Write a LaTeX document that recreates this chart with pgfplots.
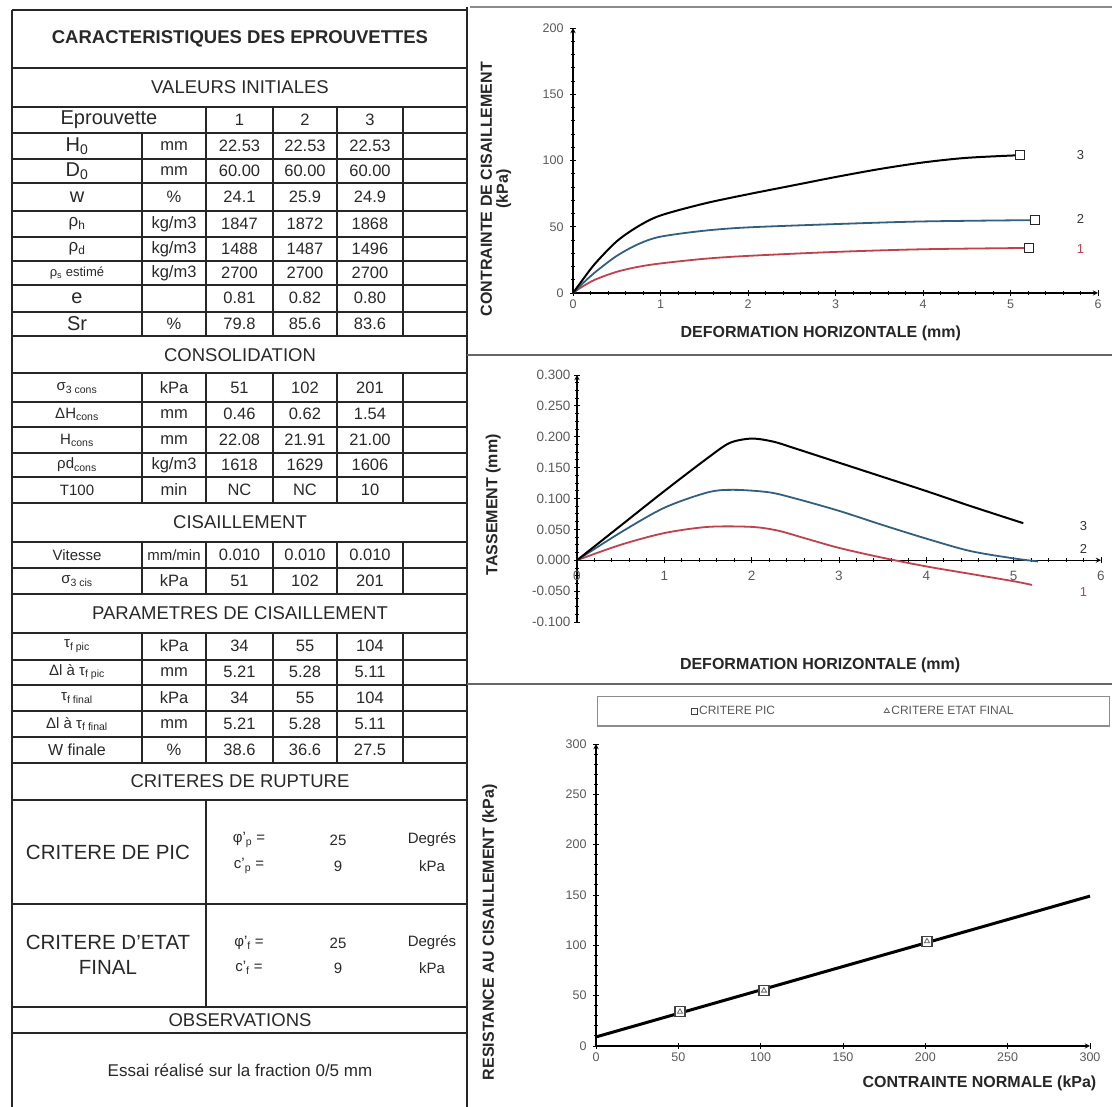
\documentclass[border=0pt]{standalone}
\usepackage{pgfplots}
\pgfplotsset{compat=1.18}
\usepackage{fontspec}
\setmainfont{Liberation Sans}
\definecolor{cred}{RGB}{190,65,75}
\definecolor{cblue}{RGB}{50,95,125}
\definecolor{txt}{RGB}{40,40,40}
\newcommand\fs[1]{\fontsize{#1}{#1}\selectfont}
\newcommand\drow[6]{%
  \node at (77,#1) {#2};
  \node[font=\fs{16.5}] at (174,#1) {#3};
  \node[font=\fs{16.5}] at (239.5,#1) {#4};
  \node[font=\fs{16.5}] at (305,#1) {#5};
  \node[font=\fs{16.5}] at (370,#1) {#6};}
\tikzset{lab/.style={font=\bfseries\fs{16}, text=black!85, anchor=center, align=center}}
\pgfplotsset{
  myaxis/.style={scale only axis, clip=false,
    axis line style={black, line width=1.3pt, -},
    tick style={black, line width=0.9pt}, tick align=center,
    major tick length=6pt, minor tick length=4pt,
    tick label style={font=\fs{12.5}, text=black!65},
    /pgf/number format/assume math mode=true}
}
\begin{document}
\begin{tikzpicture}
% ---------------- TABLE ----------------
\begin{scope}[x=1pt,y=-1pt,yshift=1107pt, every node/.style={text=txt, inner sep=0pt}]
  \draw[line width=1.6pt, black!85] (12,10) -- (12,1107);
  \draw[line width=1.6pt, black!85] (467,7) -- (467,1107);
  \foreach \y in {10,68,107,133,159,183,211,237,261,285,312,336,373,402,427,453,477,503,542,568,594,633,660,685,711,737,763,800,904,1007,1033}
    \draw[line width=1.3pt, black!85] (12,\y) -- (467,\y);
  \foreach \x in {206,273,337,403} \draw[line width=1.3pt, black!85] (\x,107) -- (\x,336);
  \draw[line width=1.3pt, black!85] (142,133) -- (142,336);
  \foreach \x in {142,206,273,337,403} {
    \draw[line width=1.3pt, black!85] (\x,373) -- (\x,503);
    \draw[line width=1.3pt, black!85] (\x,542) -- (\x,594);
    \draw[line width=1.3pt, black!85] (\x,633) -- (\x,763);}
  \draw[line width=1.3pt, black!85] (206,800) -- (206,1007);
  % chart separators
  \draw[line width=2pt, black!45] (470,7) -- (1112,7);
  \draw[line width=2pt, black!60] (467,355) -- (1112,355);
  \draw[line width=2pt, black!60] (467,684) -- (1112,684);
  % headers
  \node[font=\bfseries\fs{18.5}] at (240,39) {CARACTERISTIQUES DES EPROUVETTES};
  \node[font=\fs{18.5}] at (240,87) {VALEURS INITIALES};
  \node[font=\fs{18.5}] at (240,355) {CONSOLIDATION};
  \node[font=\fs{18.5}] at (240,522) {CISAILLEMENT};
  \node[font=\fs{18.5}] at (240,613) {PARAMETRES DE CISAILLEMENT};
  \node[font=\fs{18.5}] at (240,781) {CRITERES DE RUPTURE};
  \node[font=\fs{18.5}] at (240,1020) {OBSERVATIONS};
  \node[font=\fs{17}] at (240,1070) {Essai réalisé sur la fraction 0/5 mm};
  % initial values
  \node[font=\fs{20}] at (109,120) {Eprouvette};
  \node[font=\fs{16.5}] at (239.5,120) {1};
  \node[font=\fs{16.5}] at (305,120) {2};
  \node[font=\fs{16.5}] at (370,120) {3};
  \drow{146}{\fs{20}H\textsubscript{0}}{mm}{22.53}{22.53}{22.53}
  \drow{171}{\fs{20}D\textsubscript{0}}{mm}{60.00}{60.00}{60.00}
  \drow{197}{\fs{20}w}{\%}{24.1}{25.9}{24.9}
  \drow{224}{\fs{17}ρ\textsubscript{h}}{kg/m3}{1847}{1872}{1868}
  \drow{249}{\fs{17}ρ\textsubscript{d}}{kg/m3}{1488}{1487}{1496}
  \drow{273}{\fs{13}ρ\textsubscript{s} estimé}{kg/m3}{2700}{2700}{2700}
  \drow{298}{\fs{20}e}{}{0.81}{0.82}{0.80}
  \drow{324}{\fs{20}Sr}{\%}{79.8}{85.6}{83.6}
  % consolidation
  \drow{388}{\fs{15}σ\textsubscript{3 cons}}{kPa}{51}{102}{201}
  \drow{414}{\fs{15}ΔH\textsubscript{cons}}{mm}{0.46}{0.62}{1.54}
  \drow{440}{\fs{15}H\textsubscript{cons}}{mm}{22.08}{21.91}{21.00}
  \drow{465}{\fs{15}ρd\textsubscript{cons}}{kg/m3}{1618}{1629}{1606}
  \drow{490}{\fs{15}T100}{min}{NC}{NC}{10}
  % cisaillement
  \drow{555}{\fs{15}Vitesse}{\fs{15}mm/min}{0.010}{0.010}{0.010}
  \drow{581}{\fs{15}σ\textsubscript{3 cis}}{kPa}{51}{102}{201}
  % parametres
  \drow{646}{\fs{15}τ\textsubscript{f pic}}{kPa}{34}{55}{104}
  \drow{672}{\fs{15}Δl à τ\textsubscript{f pic}}{mm}{5.21}{5.28}{5.11}
  \drow{698}{\fs{15}τ\textsubscript{f final}}{kPa}{34}{55}{104}
  \drow{724}{\fs{15}Δl à τ\textsubscript{f final}}{mm}{5.21}{5.28}{5.11}
  \drow{750}{\fs{16}W finale}{\%}{38.6}{36.6}{27.5}
  % criteria
  \node[font=\fs{20.5}] at (108,852) {CRITERE DE PIC};
  \node[font=\fs{20.5}, align=center] at (108,955) {CRITERE D'ETAT\\[4pt]FINAL};
  \foreach \yy/\sym/\val/\un in {840/φ'\textsubscript{p} =/25/Degrés, 866/c'\textsubscript{p} =/9/kPa, 943/φ'\textsubscript{f} =/25/Degrés, 968/c'\textsubscript{f} =/9/kPa} {
    \node[font=\fs{15}] at (249,\yy) {\sym};
    \node[font=\fs{15}] at (338,\yy) {\val};
    \node[font=\fs{15}] at (432,\yy) {\un};}
\end{scope}

% ---------------- CHART 1 ----------------
\begin{axis}[myaxis, at={(573pt,814pt)}, anchor=south west, width=525pt, height=265pt,
  xmin=0, xmax=6, ymin=0, ymax=200, xtick={0,...,6}, ytick={0,50,...,200},
  minor x tick num=4, minor y tick num=4,
  axis x line=bottom, axis y line=left,
  y tick label style={xshift=-3pt},
  every axis x label/.style={lab, at={(axis description cs:0.472,-0.151)}},
  every axis y label/.style={lab, at={(axis description cs:-0.147,0.392)}, rotate=90},
  xlabel={DEFORMATION HORIZONTALE (mm)},
  ylabel={CONTRAINTE DE CISAILLEMENT\\(kPa)}]
\addplot[cred, line width=1.8pt, smooth] coordinates {(0,0) (0.1,4.5) (0.25,10) (0.5,16) (0.75,19.8) (1,22.3) (1.5,25.8) (2,28) (3,31) (4,33) (5.21,34)};
\addplot[cblue, line width=1.8pt, smooth] coordinates {(0,0) (0.1,6.5) (0.25,15.5) (0.5,28) (0.75,37) (1,42.5) (1.5,47) (2,49.5) (3,52) (4,54) (5.28,55)};
\addplot[black, line width=2pt, smooth] coordinates {(0,0) (0.1,9) (0.25,22) (0.5,39) (0.75,50.5) (1,58.5) (1.5,67.5) (2,74.5) (2.5,81) (3,87.5) (3.5,93.5) (4,98.5) (4.5,102) (5.11,104)};
\addplot[only marks, mark=square*, mark size=4.5pt, mark options={fill=white, draw=black!85, line width=1.3pt}] coordinates {(5.21,34) (5.28,55) (5.11,104)};
\node[font=\fs{13}, text=black!80] at (axis cs:5.8,104) {3};
\node[font=\fs{13}, text=black!80] at (axis cs:5.8,56) {2};
\node[font=\fs{13}, text=cred] at (axis cs:5.8,33) {1};
\end{axis}

% ---------------- CHART 2 ----------------
\begin{axis}[myaxis, at={(577pt,485pt)}, anchor=south west, width=524pt, height=247pt,
  xmin=0, xmax=6, ymin=-0.1, ymax=0.3, xtick={0,...,6},
  ytick={-0.1,-0.05,0,0.05,0.1,0.15,0.2,0.25,0.3},
  minor x tick num=4, minor y tick num=3,
  axis x line=middle, axis y line=left,
  hide obscured x ticks=false, hide obscured y ticks=false,
  tick label style={font=\fs{13.5}},
  x tick label style={yshift=-4pt},
  y tick label style={/pgf/number format/.cd, fixed, fixed zerofill, precision=3, /tikz/.cd},
  every axis x label/.style={lab, at={(axis description cs:0.464,-0.174)}},
  every axis y label/.style={lab, at={(axis description cs:-0.16,0.474)}, rotate=90},
  xlabel={DEFORMATION HORIZONTALE (mm)},
  ylabel={TASSEMENT (mm)}]
\addplot[cred, line width=1.8pt, smooth] coordinates {(0,0) (0.5,0.025) (1,0.044) (1.5,0.054) (2,0.054) (2.3,0.048) (2.6,0.036) (3,0.020) (3.5,0.004) (4,-0.010) (4.5,-0.022) (5,-0.034) (5.21,-0.040)};
\addplot[cblue, line width=1.8pt, smooth] coordinates {(0,0) (0.5,0.045) (1,0.085) (1.5,0.110) (1.8,0.114) (2.2,0.110) (2.5,0.100) (3,0.080) (3.5,0.057) (4,0.035) (4.5,0.015) (5,0.003) (5.28,-0.002)};
\addplot[black, line width=2pt, smooth] coordinates {(0,0) (0.5,0.056) (1,0.112) (1.5,0.166) (1.75,0.190) (2,0.197) (2.25,0.192) (2.5,0.181) (3,0.158) (3.5,0.135) (4,0.112) (4.5,0.088) (5.11,0.060)};
\node[font=\fs{13}, text=black!80] at (axis cs:5.8,0.055) {3};
\node[font=\fs{13}, text=black!80] at (axis cs:5.8,0.018) {2};
\node[font=\fs{13}, text=cred] at (axis cs:5.8,-0.052) {1};
\end{axis}

% ---------------- CHART 3 ----------------
\begin{axis}[myaxis, at={(596pt,61pt)}, anchor=south west, width=494pt, height=302pt,
  xmin=0, xmax=300, ymin=0, ymax=300, xtick={0,50,...,300}, ytick={0,50,...,300},
  minor y tick num=4,
  axis x line=bottom, axis y line=left,
  y tick label style={xshift=-3pt},
  every axis x label/.style={lab, at={(axis description cs:1.02,-0.123)}, anchor=east},
  every axis y label/.style={lab, at={(axis description cs:-0.215,0.377)}, rotate=90},
  xlabel={CONTRAINTE NORMALE (kPa)},
  ylabel={RESISTANCE AU CISAILLEMENT (kPa)},
  legend columns=2,
  legend image post style={mark size=3pt},
  legend style={at={(axis description cs:0.521,1.109)}, anchor=center, draw=black!45, line width=1.2pt,
    inner xsep=94pt, inner ysep=8pt, font=\fs{12}, text=black!65,
    /tikz/every even column/.append style={column sep=107pt}}]
\addplot[black, line width=3pt, forget plot] coordinates {(0,9) (300,148.9)};
\addplot[only marks, mark=square*, mark size=5pt, mark options={fill=white, draw=black!75, line width=1.1pt}] coordinates {(51,34) (102,55) (201,104)};
\addlegendentry{CRITERE PIC}
\addplot[only marks, mark=triangle, mark size=3pt, mark options={draw=black!60, line width=0.8pt}] coordinates {(51,34) (102,55) (201,104)};
\addlegendentry{CRITERE ETAT FINAL}
\end{axis}

\pgfresetboundingbox
\useasboundingbox (0,0) rectangle (1112pt,1107pt);
\end{tikzpicture}
\end{document}
